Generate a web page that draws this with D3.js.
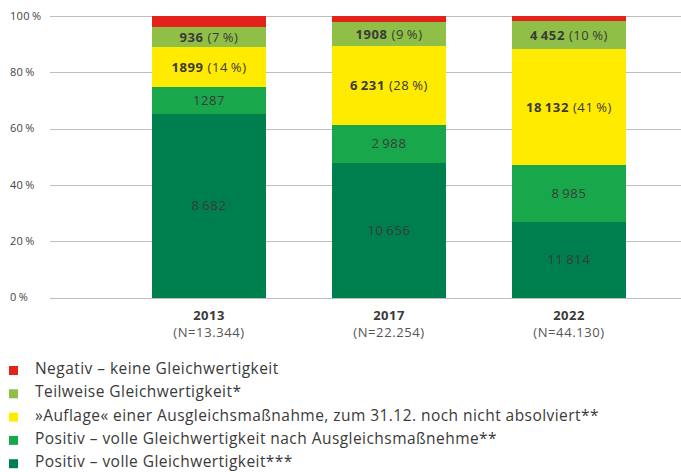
<!DOCTYPE html>
<html>
<head>
<meta charset="utf-8">
<script src="https://cdn.jsdelivr.net/npm/d3@7"></script>
<style>
  html, body { margin: 0; padding: 0; background: #fff; }
  svg { display: block; font-family: "Open Sans", "DejaVu Sans", sans-serif; }
</style>
</head>
<body>
<svg id="chart" width="681" height="472"></svg>
<script>
// ---- data ----
const years = ["2013", "2017", "2022"];
const totals = ["(N=13.344)", "(N=22.254)", "(N=44.130)"];
const seriesNames = [
  "Positiv – volle Gleichwertigkeit***",
  "Positiv – volle Gleichwertigkeit nach Ausgleichsmaßnehme**",
  "»Auflage« einer Ausgleichsmaßnahme, zum 31.12. noch nicht absolviert**",
  "Teilweise Gleichwertigkeit*",
  "Negativ – keine Gleichwertigkeit"
];
const seriesColors = ["#007f4e", "#18a84b", "#ffeb00", "#8fbf47", "#e3231b"];
// absolute counts per series (bottom to top), per year
const positivVoll   = [8682, 10656, 11814];
const positivNach   = [1287, 2988, 8985];
const auflage       = [1899, 6231, 18132];
const teilweise     = [936, 1908, 4452];
const negativ       = [540, 471, 747];
// label texts: [bold part, normal part]
const labelsPositivVoll = [["", "8\u2009682"], ["", "10\u2009656"], ["", "11\u2009814"]];
const labelsPositivNach = [["", "1287"], ["", "2\u2009988"], ["", "8\u2009985"]];
const labelsAuflage     = [["1899", " (14\u2009%)"], ["6\u2009231", " (28\u2009%)"], ["18\u2009132", " (41\u2009%)"]];
const labelsTeilweise   = [["936", " (7\u2009%)"], ["1908", " (9\u2009%)"], ["4\u2009452", " (10\u2009%)"]];
const labelsNegativ     = [null, null, null];
const yTicks = [0, 20, 40, 60, 80, 100];

const seriesValues = [positivVoll, positivNach, auflage, teilweise, negativ];
const seriesLabels = [labelsPositivVoll, labelsPositivNach, labelsAuflage, labelsTeilweise, labelsNegativ];

// ---- build stacked percentages ----
const rows = years.map((yr, i) => {
  const row = { year: yr };
  const sum = d3.sum(seriesValues, s => s[i]);
  seriesValues.forEach((s, k) => { row["s" + k] = s[i] / sum * 100; });
  return row;
});
const keys = seriesValues.map((_, k) => "s" + k);
const stacked = d3.stack().keys(keys)(rows);

const svg = d3.select("#chart");
const y = d3.scaleLinear().domain([0, 100]).range([297.5, 16]);
const x = d3.scaleBand().domain(years).range([50, 728]).paddingInner(0.3667).paddingOuter(0.5667);

// grid + tick labels
const grid = svg.append("g");
grid.selectAll("line").data(yTicks).join("line")
  .attr("x1", 50).attr("x2", 681)
  .attr("y1", d => Math.round(y(d)) + 0.5).attr("y2", d => Math.round(y(d)) + 0.5)
  .attr("stroke", "#bdbdbd").attr("stroke-width", 1);
grid.selectAll("text").data(yTicks).join("text")
  .attr("x", 10).attr("y", d => y(d)).attr("dy", "0.35em")
  .attr("font-size", 11).attr("letter-spacing", 0.3).attr("fill", "#444")
  .text(d => d + "\u2009%");

// bars
const layers = svg.append("g").attr("shape-rendering", "crispEdges")
  .selectAll("g").data(stacked).join("g")
  .attr("fill", (d, k) => seriesColors[k]);
layers.selectAll("rect").data(d => d).join("rect")
  .attr("x", d => x(d.data.year))
  .attr("width", x.bandwidth())
  .attr("y", d => y(d[1]))
  .attr("height", d => y(d[0]) - y(d[1]));

// segment labels
stacked.forEach((layer, k) => {
  layer.forEach((d, i) => {
    const lab = seriesLabels[k][i];
    if (!lab) return;
    const t = svg.append("text")
      .attr("x", x(d.data.year) + x.bandwidth() / 2)
      .attr("y", (y(d[0]) + y(d[1])) / 2)
      .attr("dy", "0.35em")
      .attr("text-anchor", "middle")
      .attr("font-size", 13)
      .attr("letter-spacing", 0.6)
      .attr("fill", "#3a3a3a");
    if (lab[0]) t.append("tspan").attr("font-weight", "bold").text(lab[0]);
    t.append("tspan").text(lab[1]);
  });
});

// x labels
const xl = svg.append("g");
years.forEach((yr, i) => {
  const cx = x(yr) + x.bandwidth() / 2;
  xl.append("text").attr("x", cx).attr("y", 320).attr("text-anchor", "middle")
    .attr("font-size", 13).attr("letter-spacing", 0.5).attr("font-weight", "bold").attr("fill", "#3a3a3a").text(yr);
  xl.append("text").attr("x", cx).attr("y", 337).attr("text-anchor", "middle")
    .attr("font-size", 13).attr("letter-spacing", 0.6).attr("fill", "#555").text(totals[i]);
});

// legend (top to bottom: reverse of stack)
const legendOrder = d3.range(seriesNames.length).reverse();
const lg = svg.append("g");
legendOrder.forEach((k, j) => {
  const base = 374 + j * 23.3;
  lg.append("rect").attr("x", 9).attr("y", base - 8).attr("width", 9).attr("height", 9)
    .attr("fill", seriesColors[k]);
  lg.append("text").attr("x", 35).attr("y", base)
    .attr("font-size", 15.5).attr("letter-spacing", 0.45).attr("font-weight", 500)
    .attr("fill", "#3a3a3a").text(seriesNames[k]);
});
</script>
</body>
</html>
